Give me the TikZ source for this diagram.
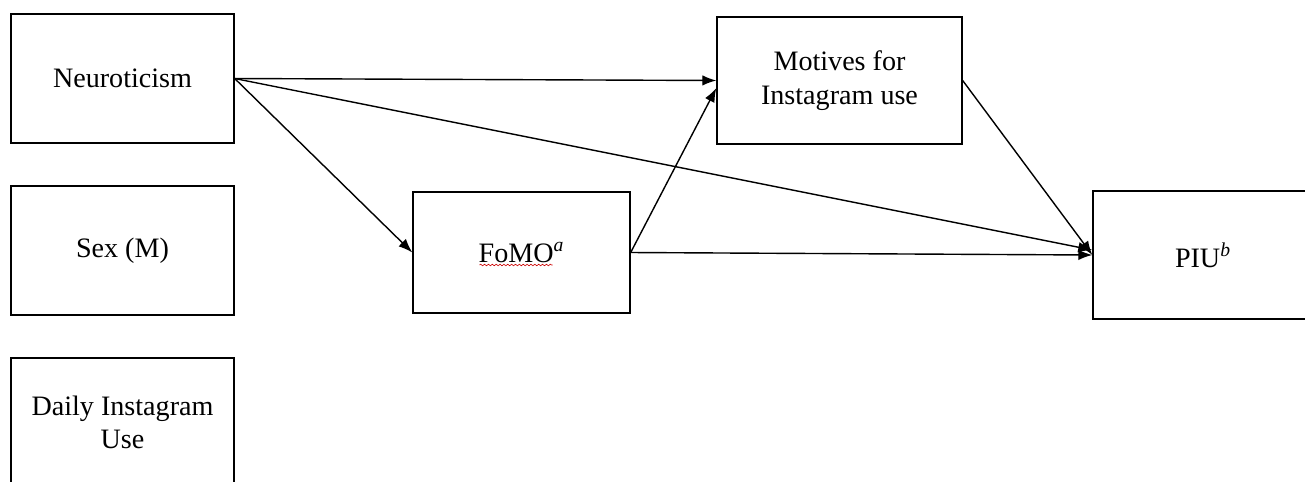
\documentclass[tikz,border=0pt]{standalone}
\usepackage{fontspec}
\setmainfont{Liberation Serif}
\usepackage{tikz}
\usetikzlibrary{calc,arrows.meta,decorations.pathmorphing}

\tikzset{
	varbox/.style={draw,line width=0.8pt,align=center,font=\fontsize{16}{19}\selectfont},
	path/.style={line width=0.8pt,-{Latex[length=8pt,width=6pt]}},
	squiggle/.style={red!80!black,line width=0.35pt,decorate,decoration={snake,amplitude=0.45pt,segment length=2.2pt}}
}

\begin{document}
\begin{tikzpicture}[x=0.02cm,y=-0.02cm]
		\useasboundingbox (0,0) rectangle (1305,481);
		\clip (0,0) rectangle (1305,481);
		% predictors and covariates
		\node[varbox,minimum width=4.46cm,minimum height=2.58cm] (neuro) at (122.5,78.5) {Neuroticism};
		\node[varbox,minimum width=4.46cm,minimum height=2.58cm] (sex) at (122.5,250.5) {Sex (M)};
		\node[varbox,minimum width=4.46cm,minimum height=2.58cm] (daily) at (122.5,422.5) {Daily Instagram\\Use};
		% mediators
		\node[varbox,minimum width=4.34cm,minimum height=2.42cm] (fomo) at (521.5,252.5) {FoMO\textsuperscript{\textit{a}}};
		\node[varbox,minimum width=4.90cm,minimum height=2.54cm] (motives) at (839.5,80.5) {Motives for\\Instagram use};
		% outcome
		\node[varbox,minimum width=4.40cm,minimum height=2.56cm] (piu) at (1203,255) {PIU\textsuperscript{\textit{b}}};
		\draw[squiggle] ($(fomo.center)+(-42,12.5)$) -- ($(fomo.center)+(31,12.5)$);
		% paths
		\draw[path] (neuro.east) -- (motives.west);
		\draw[path] (neuro.east) -- (fomo.west);
		\draw[path] (neuro.east) -- ([yshift=0.1cm]piu.west);
		\draw[path] (fomo.east) -- ([yshift=-0.15cm]motives.west);
		\draw[path] (fomo.east) -- (piu.west);
		\draw[path] (motives.east) -- (piu.west);
	\end{tikzpicture}
\end{document}
